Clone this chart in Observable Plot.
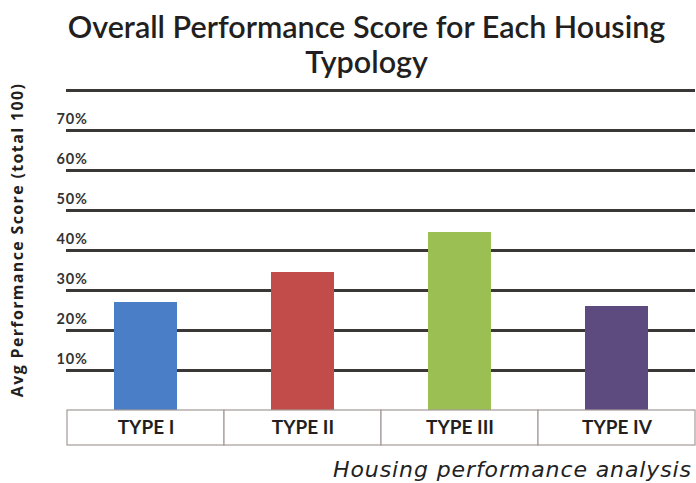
<!DOCTYPE html>
<html><head><meta charset="utf-8">
<script src="https://cdn.jsdelivr.net/npm/d3@7"></script>
<script src="https://cdn.jsdelivr.net/npm/@observablehq/plot@0.6"></script>
<style>
body{margin:0;background:#fff;width:696px;height:483px;overflow:hidden;position:relative;}
#title{position:absolute;left:0;top:9px;width:733px;text-align:center;font:600 30.5px/35px Lato,sans-serif;color:#231f20;}
#ylabel{position:absolute;left:17px;top:240px;transform:translate(-50%,-50%) rotate(-90deg);white-space:nowrap;font:700 16px "Open Sans",sans-serif;letter-spacing:1.35px;color:#231f20;}
#chart{position:absolute;left:0;top:80px;}
#caption{position:absolute;right:4px;top:457px;font:italic 22px/26px "DejaVu Sans",sans-serif;letter-spacing:0.9px;color:#222;white-space:nowrap;}
#chart svg g[aria-label="y-axis tick label"] text{letter-spacing:0.8px;}
</style></head>
<body>
<div id="title">Overall Performance Score for Each Housing<br>Typology</div>
<div id="ylabel">Avg Performance Score (total 100)</div>
<div id="chart"></div>
<div id="caption">Housing performance analysis</div>
<script>
const types = ["TYPE I", "TYPE II", "TYPE III", "TYPE IV"];
const scores = [27, 34.5, 44.5, 26];
const colors = ["#4a7ec6", "#c24c49", "#9bbf53", "#5d4a7f"];
const gridTicks = [10, 20, 30, 40, 50, 60, 70, 80];
const labelTicks = [10, 20, 30, 40, 50, 60, 70];

const data = types.map((t, i) => ({type: t, score: scores[i]}));

function typeBoxes(index, scales, values, dims) {
  const x = scales.x;
  const step = typeof x.step === "function" ? x.step() : scales.scales.x.step;
  const band = typeof x.bandwidth === "function" ? x.bandwidth() : scales.scales.x.bandwidth;
  const y0 = scales.y(0);
  const g = d3.create("svg:g");
  g.selectAll("rect").data(types).join("rect")
    .attr("x", d => x(d) - (step - band) / 2)
    .attr("y", y0)
    .attr("width", step)
    .attr("height", 35)
    .attr("fill", "#fff")
    .attr("stroke", "#a39a98")
    .attr("stroke-width", 1.2);
  return g.node();
}

const chart = Plot.plot({
  width: 696,
  height: 370,
  marginTop: 10,
  marginBottom: 40,
  marginLeft: 66,
  marginRight: 1,
  x: {domain: types, paddingInner: 0.6, paddingOuter: 0.3, axis: null},
  y: {domain: [0, 80], axis: null},
  color: {domain: types, range: colors},
  marks: [
    Plot.ruleY(gridTicks, {stroke: "#3b3737", strokeWidth: 3}),
    Plot.axisY(labelTicks, {anchor: "left", tickSize: 0, tickPadding: 10, textAnchor: "start", dy: -11,
      tickFormat: d => d + "%", fontSize: 14.5, fontWeight: 700, fill: "#333", fontFamily: "Lato", label: null}),
    Plot.barY(data, {x: "type", y: "score", fill: "type"}),
    typeBoxes,
    Plot.axisX({anchor: "bottom", tickSize: 0, tickPadding: 10, fontSize: 19, fontWeight: 700,
      fill: "#231f20", fontFamily: "Lato", label: null})
  ],
  style: {background: "transparent"}
});
document.getElementById("chart").appendChild(chart);
</script>
</body></html>
